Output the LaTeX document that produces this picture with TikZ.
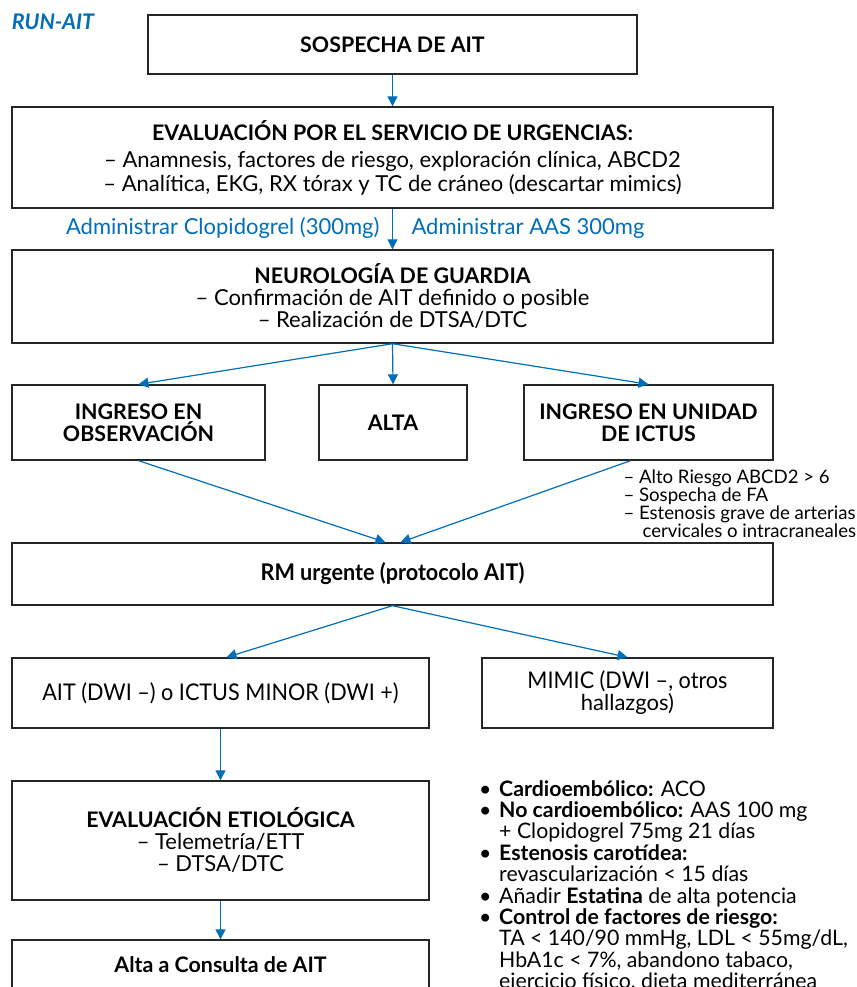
\documentclass[tikz,border=0pt]{standalone}
\usepackage{fontspec}
\setmainfont{Lato}
\newfontfamily\narrowfont[FakeStretch=0.94]{Lato}
\usepackage{xcolor}
\usetikzlibrary{positioning,arrows.meta}
\definecolor{runblue}{RGB}{0,110,185}
\newcommand{\headtxt}[1]{{\fontsize{21.4}{22}\selectfont\bfseries #1}}
\newcommand{\bul}{\makebox[20pt][l]{\textbullet}}
\newcommand{\cont}{\hspace*{20pt}}

\begin{document}
\begin{tikzpicture}[x=1pt, y=-1pt, font=\fontsize{22}{22}\selectfont,
  box/.style={draw=black!85, line width=1.4pt, align=center, inner sep=0pt},
  flow/.style={-{Triangle[length=10pt,width=10pt]}, draw=runblue, line width=1.2pt},
  bluetext/.style={text=runblue}]
\useasboundingbox (0,0) rectangle (856,987);

% title
\node[text=runblue, font=\fontsize{21.5}{22}\selectfont\bfseries\itshape] (runait) at (53,22) {RUN-AIT};

% main column
\node[box, minimum width=489, minimum height=59] (sospecha) at (392.5,44.5) {\headtxt{SOSPECHA DE AIT}};
\node[box, minimum width=761, minimum height=101] (urg) at (392.5,157.5)
  {\headtxt{EVALUACIÓN POR EL SERVICIO DE URGENCIAS:}\\[5pt]
   – Anamnesis, factores de riesgo, exploración clínica, ABCD2\\[2pt]
   – Analítica, EKG, RX tórax y TC de cráneo (descartar mimics)};
\node[box, minimum width=761, minimum height=93] (neuro) at (392.5,296.5)
  {\headtxt{NEUROLOGÍA DE GUARDIA}\\
   – Confirmación de AIT definido o posible\\
   – Realización de DTSA/DTC};

% admin labels
\node[bluetext, anchor=east] (clopi) at (383,228) {Administrar Clopidogrel (300mg)};
\node[bluetext, anchor=west] (aas) at (408,228) {Administrar AAS 300mg};

% second row
\node[box, minimum width=253, minimum height=75] (obs) at (138.5,422.5)
  {\headtxt{INGRESO EN}\\\headtxt{OBSERVACIÓN}};
\node[box, minimum width=148, minimum height=75] (alta) at (393,422.5) {\headtxt{ALTA}};
\node[box, minimum width=249, minimum height=75] (unidad) at (648.5,422.5)
  {\headtxt{INGRESO EN UNIDAD}\\\headtxt{DE ICTUS}};
\node[anchor=north west, align=left, font=\fontsize{18.6}{18}\selectfont] (criterios) at (620,466)
  {– Alto Riesgo ABCD2 > 6\\
   – Sospecha de FA\\
   – Estenosis grave de arterias\\
   \hspace*{19pt}cervicales o intracraneales};

% RM
\node[box, minimum width=761, minimum height=62] (rm) at (392.5,574)
  {\narrowfont\fontsize{23}{26}\selectfont\bfseries RM urgente (protocolo AIT)};
\node[box, minimum width=417, minimum height=70] (aitbox) at (220.5,693)
  {\narrowfont\fontsize{23}{26}\selectfont AIT (DWI –) o ICTUS MINOR (DWI +)};
\node[box, minimum width=291, minimum height=70] (mimic) at (627.5,693)
  {\narrowfont\fontsize{23}{29}\selectfont MIMIC (DWI –, otros\\hallazgos)};

% etiology
\node[box, minimum width=417, minimum height=119] (etio) at (220.5,840.5)
  {\headtxt{EVALUACIÓN ETIOLÓGICA}\\
   – Telemetría/ETT\\
   – DTSA/DTC};
\node[box, minimum width=417, minimum height=50] (consulta) at (220.5,965)
  {\headtxt{Alta a Consulta de AIT}};

% treatment list
\node[anchor=north west, align=left, inner sep=0pt,
  font=\fontsize{21.3}{21.4}\selectfont] (tratamiento) at (479,780)
  {\lineskiplimit=-100pt\relax
   \bul\textbf{Cardioembólico:} ACO\\
   \bul\textbf{No cardioembólico:} AAS 100 mg\\
   \cont+ Clopidogrel 75mg 21 días\\
   \bul\textbf{Estenosis carotídea:}\\
   \cont revascularización < 15 días\\
   \bul Añadir \textbf{Estatina} de alta potencia\\
   \bul\textbf{Control de factores de riesgo:}\\
   \cont TA < 140/90 mmHg, LDL < 55mg/dL,\\
   \cont HbA1c < 7\%, abandono tabaco,\\
   \cont ejercicio físico, dieta mediterránea};

% arrows
\draw[flow] (sospecha) -- (urg);
\draw[flow] (urg) -- (neuro);
\draw[flow] (neuro.south) -- (obs.north);
\draw[flow] (neuro.south) -- (alta.north);
\draw[flow] (neuro.south) -- (unidad.north);
\draw[flow] (obs.south) -- ([xshift=-7pt]rm.north);
\draw[flow] ([xshift=-18pt]unidad.south) -- ([xshift=8pt]rm.north);
\draw[flow] (rm.south) -- ([xshift=6pt]aitbox.north);
\draw[flow] (rm.south) -- (mimic.north);
\draw[flow] (aitbox) -- (etio);
\draw[flow] (etio) -- (consulta);
\end{tikzpicture}
\end{document}
